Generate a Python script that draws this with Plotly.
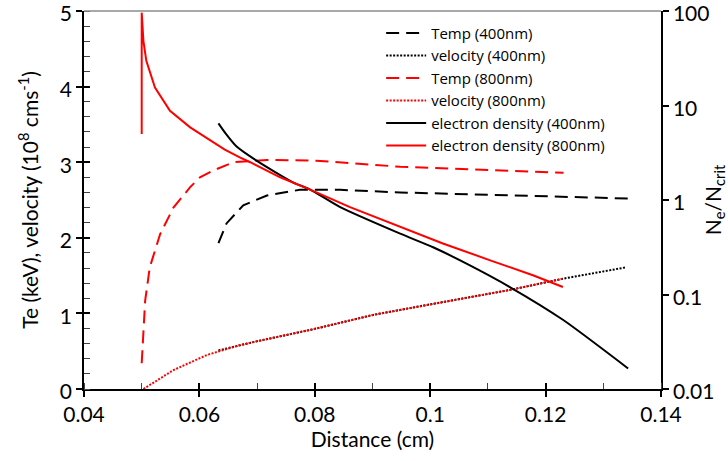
import plotly.graph_objects as go

# ---- data ----
x_te400 = [0.0633, 0.0647, 0.0676, 0.0717, 0.0774, 0.0844, 0.0948, 0.1150, 0.1343]
te400 = [1.93, 2.19, 2.43, 2.56, 2.635, 2.635, 2.60, 2.56, 2.52]

x_v400 = [0.0633, 0.0699, 0.0797, 0.0901, 0.1000, 0.1138, 0.1231, 0.1340]
v400 = [0.51, 0.63, 0.79, 0.98, 1.12, 1.31, 1.46, 1.61]

x_te800 = [0.0500, 0.0506, 0.0514, 0.0532, 0.0555, 0.0584, 0.0601, 0.0624, 0.0659, 0.0717, 0.0803, 0.0948, 0.1231]
te800 = [0.34, 1.17, 1.61, 2.05, 2.40, 2.67, 2.80, 2.89, 3.00, 3.03, 3.02, 2.94, 2.86]

x_v800 = [0.0503, 0.0555, 0.0613, 0.0670, 0.0699, 0.0797, 0.0901, 0.1000, 0.1138, 0.1231]
v800 = [0.0, 0.25, 0.45, 0.58, 0.63, 0.79, 0.98, 1.12, 1.31, 1.46]

x_d400 = [0.0633, 0.0646, 0.0664, 0.0699, 0.0762, 0.0792, 0.0844, 0.0948, 0.1005, 0.1063, 0.1138, 0.1230, 0.1343]
d400 = [6.46, 5.0, 3.7, 2.61, 1.54, 1.29, 0.84, 0.44, 0.316, 0.212, 0.12, 0.054, 0.0165]

x_d800 = [0.0500, 0.0500, 0.0503, 0.0508, 0.0523, 0.0549, 0.0584, 0.0624, 0.0644, 0.0670, 0.0688,
          0.0740, 0.0792, 0.0861, 0.0948, 0.1022, 0.1104, 0.1178, 0.1230]
d800 = [5.0, 96, 48, 29.7, 15.5, 8.8, 5.87, 4.07, 3.41, 2.83, 2.51,
        1.74, 1.29, 0.84, 0.525, 0.347, 0.23, 0.16, 0.12]

x_ticks = [0.04, 0.06, 0.08, 0.1, 0.12, 0.14]
x_ticklabels = ["0.04", "0.06", "0.08", "0.1", "0.12", "0.14"]
y_ticks = [0, 1, 2, 3, 4, 5]
y2_ticks = [0.01, 0.1, 1, 10, 100]
y2_ticklabels = ["0.01", "0.1", "1", "10", "100"]

FONT = "Lato"
LEGFONT = "Open Sans"
RED = "#ff0000"
BLACK = "#000000"
DASH = "13px,7px"
DOT = "2px,1.5px"
FS = 21

fig = go.Figure()
fig.add_trace(go.Scatter(x=x_te400, y=te400, mode="lines", name="Temp (400nm)",
                         line=dict(color=BLACK, width=2, dash=DASH)))
fig.add_trace(go.Scatter(x=x_v400, y=v400, mode="lines", name="velocity (400nm)",
                         line=dict(color=BLACK, width=2, dash=DOT)))
fig.add_trace(go.Scatter(x=x_te800, y=te800, mode="lines", name="Temp (800nm)",
                         line=dict(color=RED, width=2, dash=DASH)))
fig.add_trace(go.Scatter(x=x_v800, y=v800, mode="lines", name="velocity (800nm)",
                         line=dict(color=RED, width=2, dash=DOT)))
fig.add_trace(go.Scatter(x=x_d400, y=d400, mode="lines", name="electron density (400nm)",
                         yaxis="y2", line=dict(color=BLACK, width=2, shape="spline", smoothing=0.6)))
fig.add_trace(go.Scatter(x=x_d800, y=d800, mode="lines", name="electron density (800nm)",
                         yaxis="y2", line=dict(color=RED, width=2)))

fig.update_layout(
    width=728, height=461,
    margin=dict(l=84, r=67, t=11, b=72, autoexpand=False),
    paper_bgcolor="white", plot_bgcolor="white",
    font=dict(family=FONT, size=FS, color="#000000"),
    showlegend=True,
    legend=dict(x=0.515, y=0.985, xanchor="left", yanchor="top",
                bgcolor="rgba(0,0,0,0)", font=dict(size=15, family=LEGFONT),
                tracegroupgap=0, itemwidth=40),
    xaxis=dict(range=[0.04, 0.14], tickvals=x_ticks, ticktext=x_ticklabels, automargin=False,
               showgrid=False, zeroline=False, showline=True, linecolor="#000", linewidth=1.5,
               ticks="outside", ticklen=6, tickwidth=1.5, tickcolor="#000",
               minor=dict(dtick=0.01, ticks="inside", ticklen=6, tickwidth=1, tickcolor="#444"),
               title=dict(text="Distance (cm)", standoff=4, font=dict(size=FS)),
               tickfont=dict(size=FS), ticklabeloverflow="allow"),
    yaxis=dict(range=[0, 5], tickvals=y_ticks, automargin=False,
               showgrid=False, zeroline=False, showline=True, linecolor="#000", linewidth=1.5,
               ticks="outside", ticklen=6, tickwidth=1.5, tickcolor="#000",
               minor=dict(dtick=0.2, ticks="inside", ticklen=6, tickwidth=1, tickcolor="#444"),
               title=dict(text="Te (keV), velocity (10<sup>8</sup> cms<sup>-1</sup>)", standoff=16,
                          font=dict(size=FS)),
               tickfont=dict(size=FS), ticklabeloverflow="allow", ticklabelshift=3),
    yaxis2=dict(type="log", range=[-2, 2], tickvals=y2_ticks, ticktext=y2_ticklabels,
                overlaying="y", side="right", anchor="x", automargin=False,
                showgrid=False, zeroline=False, showline=True, linecolor="#000", linewidth=1.5,
                ticks="outside", ticklen=6, tickwidth=1.5, tickcolor="#000",
                title=dict(text="N<sub>e</sub>/N<sub>crit</sub>", standoff=8, font=dict(size=FS)),
                tickfont=dict(size=FS), ticklabeloverflow="allow", ticklabelshift=3),
    # helper overlay axes to make the major ticks cross the axis lines
    xaxis2=dict(range=[0.04, 0.14], tickvals=x_ticks, overlaying="x", anchor="y", side="bottom",
                showticklabels=False, ticks="inside", ticklen=6, tickwidth=1.5, tickcolor="#000",
                showgrid=False, zeroline=False, showline=False, automargin=False),
    yaxis3=dict(range=[0, 5], tickvals=y_ticks, overlaying="y", anchor="x", side="left",
                showticklabels=False, ticks="inside", ticklen=6, tickwidth=1.5, tickcolor="#000",
                showgrid=False, zeroline=False, showline=False, automargin=False),
    shapes=[dict(type="line", xref="paper", yref="paper", x0=0, x1=1, y0=1, y1=1,
                 line=dict(color="#8c8c8c", width=1.5))],
)
# invisible trace to bind helper axes
fig.add_trace(go.Scatter(x=[0.04], y=[0], xaxis="x2", yaxis="y3", mode="markers",
                         marker=dict(opacity=0), showlegend=False, hoverinfo="skip"))

fig.write_html("out.html")
